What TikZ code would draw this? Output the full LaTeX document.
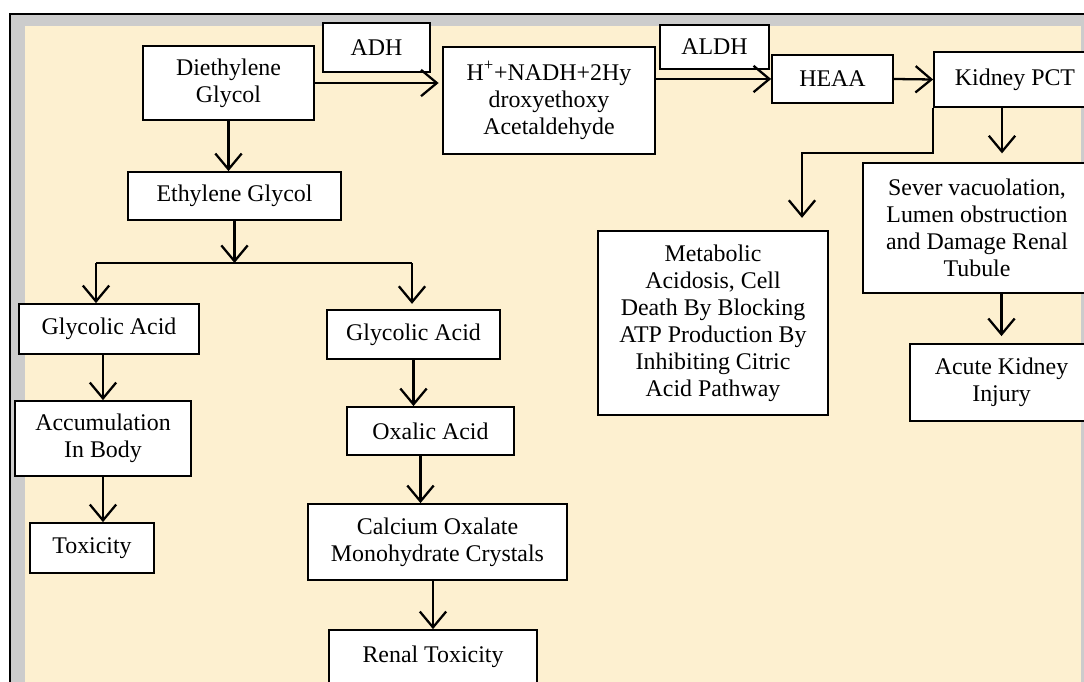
\documentclass[tikz,border=0pt]{standalone}
\usepackage{fontspec}
\setmainfont{Liberation Serif}
\usetikzlibrary{positioning}
\usetikzlibrary{arrows.meta, calc}
\definecolor{cream}{RGB}{253,240,208}
\definecolor{framegray}{RGB}{204,204,204}

\tikzset{
  box/.style={draw, fill=white, line width=1pt, inner sep=0pt, align=center, font=\fontsize{13.6}{15.4}\selectfont},
  arr/.style={-{Straight Barb[length=9pt,width=15pt]}, line width=1.3pt}
}

\begin{document}
\begin{tikzpicture}[x=0.02cm, y=-0.02cm]
    % Khung nen mau kem, vien xam
    \useasboundingbox (0,0) rectangle (1084,682);
    \clip (0,0) rectangle (1084,682);
    \fill[framegray] (10,14) rectangle (1090,690);
    \fill[cream] (25,26) rectangle (1081,690);
    \draw[line width=1pt] (10,690) -- (10,14) -- (1090,14);

    % Hang tren: Diethylene Glycol -> ... -> Kidney PCT
    \node[box, minimum width=3.42cm, minimum height=1.48cm] (dieg) at (228.5,83) {Diethylene\\Glycol};
    \node[box, minimum width=2.14cm, minimum height=0.98cm] (adh) at (376.5,47.5) {ADH};
    \node[box, minimum width=4.24cm, minimum height=2.14cm] (hnadh) at (549,100.5) {H\textsuperscript{+}+NADH+2Hy\\droxyethoxy\\Acetaldehyde};
    \node[box, minimum width=2.18cm, minimum height=0.88cm] (aldh) at (714.5,47) {ALDH};
    \node[box, minimum width=2.42cm, minimum height=0.96cm] (heaa) at (832.5,79) {HEAA};
    \node[box, minimum width=3.24cm, minimum height=1.10cm] (kpct) at (1015,79.5) {Kidney PCT};
    \draw[arr, shorten >=2pt] (dieg.east) -- (dieg.east -| hnadh.west);
    \draw[arr] (hnadh.east |- heaa.west) -- (heaa.west);
    \draw[arr] (heaa.east) -- (kpct.west);

    % Nhanh ben phai: Kidney PCT
    \node[box, minimum width=4.60cm, minimum height=3.68cm] (metab) at (713,323) {Metabolic\\Acidosis, Cell\\Death By Blocking\\ATP Production By\\Inhibiting Citric\\Acid Pathway};
    \node[box, minimum width=4.56cm, minimum height=2.60cm] (sever) at (977,228) {Sever vacuolation,\\Lumen obstruction\\and Damage Renal\\Tubule};
    \node[box, minimum width=3.66cm, minimum height=1.54cm] (acute) at (1001.5,382.5) {Acute Kidney\\Injury};
    \coordinate (metabin) at ($(metab.north)+(89,0)$);
    \coordinate (kdown) at ($(kpct.south)+(-13,0)$);
    \draw[arr, shorten >=7pt] (kpct.south west) -- ++(0,45) -| (metabin);
    \draw[arr, shorten >=5pt] (kdown) -- (kdown |- sever.north);
    \draw[arr, shorten >=4pt] (acute.north |- sever.south) -- (acute.north);

    % Nhanh duoi: Ethylene Glycol
    \node[box, minimum width=4.26cm, minimum height=0.96cm] (ethg) at (234.5,196) {Ethylene Glycol};
    \draw[arr] (dieg.south) -- (dieg.south |- ethg.north);
    \coordinate (splitL) at (96,263);
    \coordinate (splitR) at (412,263);
    \draw[arr] (ethg.south) -- (ethg.south |- splitL);
    \draw[line width=1.3pt] (splitL) -- (splitR);

    % Cot trai
    \node[box, minimum width=3.60cm, minimum height=1.00cm] (glyL) at (109,329) {Glycolic Acid};
    \node[box, minimum width=3.52cm, minimum height=1.50cm] (accum) at (103,438.5) {Accumulation\\In Body};
    \node[box, minimum width=2.48cm, minimum height=1.00cm] (toxic) at (92,548) {Toxicity};
    \draw[arr] (splitL) -- (splitL |- glyL.north);
    \draw[arr] (accum.north |- glyL.south) -- (accum.north);
    \draw[arr] (accum.south) -- (accum.south |- toxic.north);

    % Cot giua
    \node[box, minimum width=3.46cm, minimum height=0.98cm] (glyR) at (413.5,334.5) {Glycolic Acid};
    \node[box, minimum width=3.34cm, minimum height=0.96cm] (oxal) at (430.5,431) {Oxalic Acid};
    \node[box, minimum width=5.18cm, minimum height=1.52cm] (calc) at (437.5,542) {Calcium Oxalate\\Monohydrate Crystals};
    \node[box, minimum width=4.16cm, minimum height=1.08cm] (renal) at (433,657) {Renal Toxicity};
    \coordinate (oxdown) at ($(oxal.south)+(-10,0)$);
    \draw[arr, shorten >=3pt] (splitR) -- (splitR |- glyR.north);
    \draw[arr] (glyR.south) -- (glyR.south |- oxal.north);
    \draw[arr] (oxdown) -- (oxdown |- calc.north);
    \draw[arr] (renal.north |- calc.south) -- (renal.north);
\end{tikzpicture}
\end{document}
